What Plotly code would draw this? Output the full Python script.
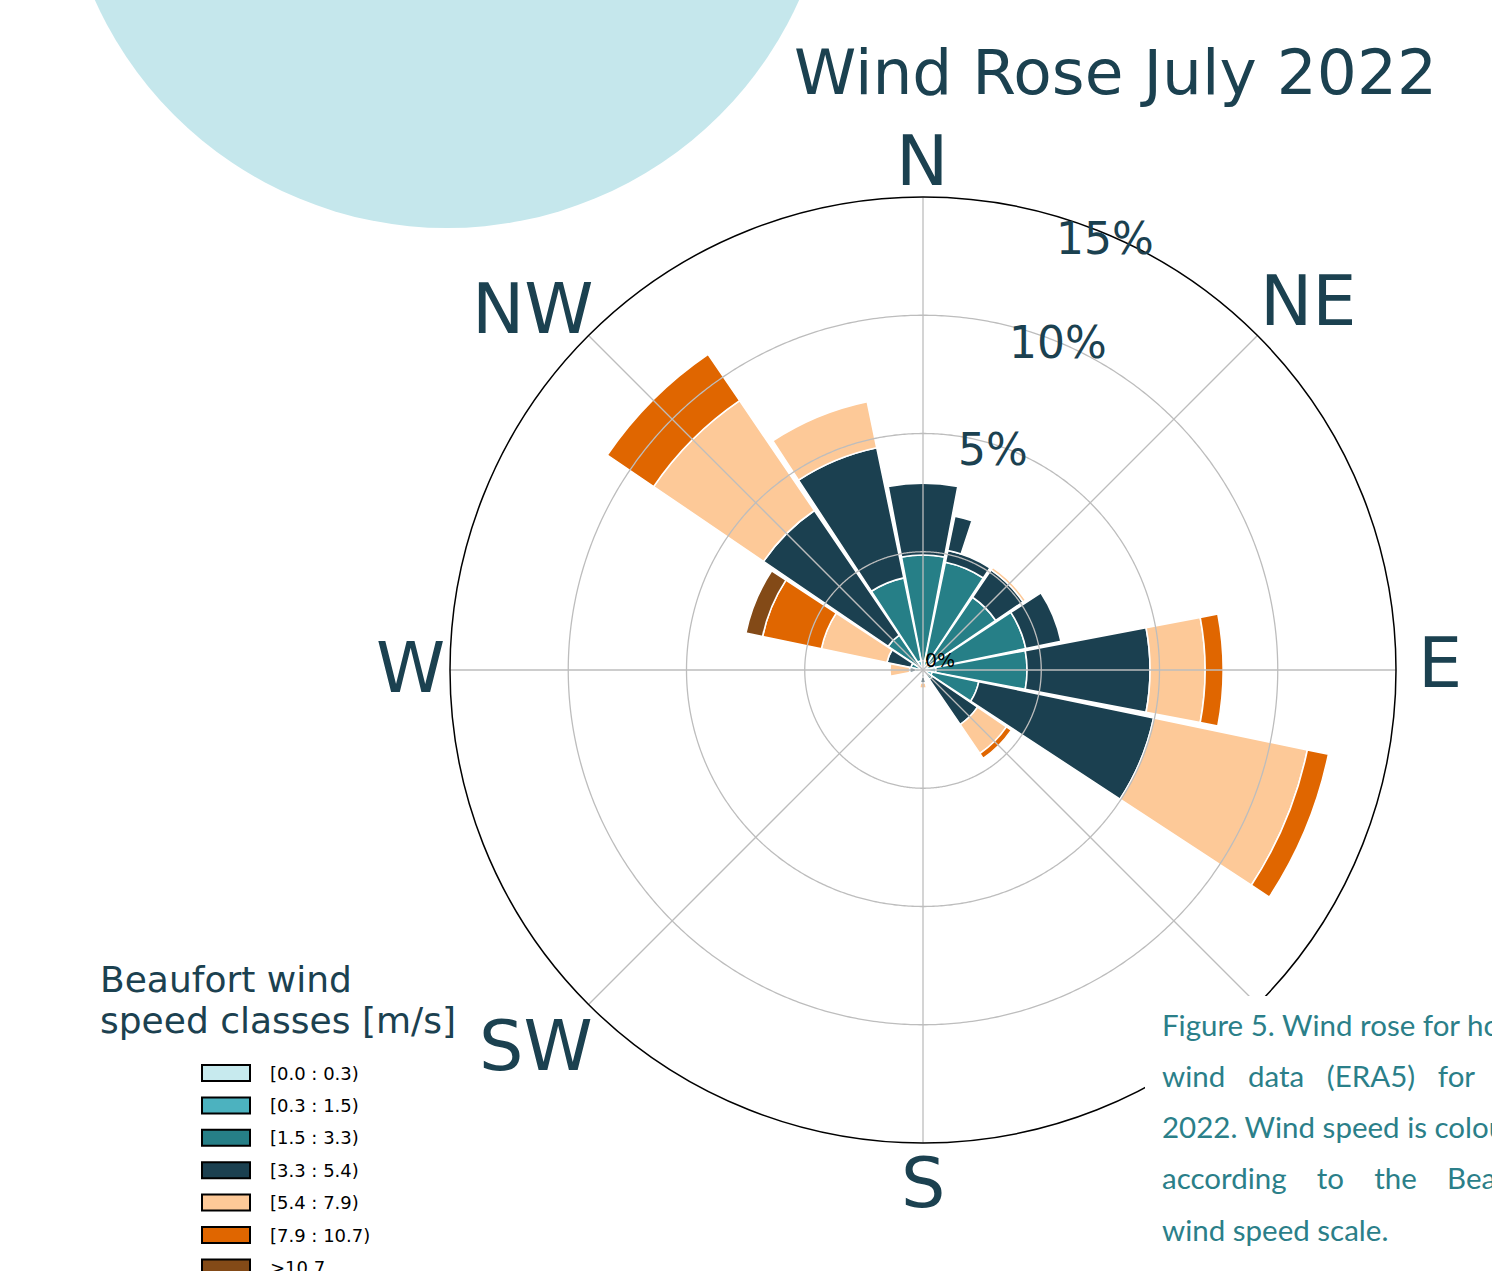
import numpy as np
import plotly.graph_objects as go

W, H = 1492, 1271

# ---------------- data ----------------
directions = ["N", "NNE", "NE", "ENE", "E", "ESE", "SE", "SSE",
              "S", "SSW", "SW", "WSW", "W", "WNW", "NW", "NNW"]
direction_deg = [0, 22.5, 45, 67.5, 90, 112.5, 135, 157.5,
                 180, 202.5, 225, 247.5, 270, 292.5, 315, 337.5]

speed_classes = ["[0.0 : 0.3)", "[0.3 : 1.5)", "[1.5 : 3.3)", "[3.3 : 5.4)",
                 "[5.4 : 7.9)", "[7.9 : 10.7)", ">10.7"]

# frequency (%) per direction for each Beaufort class
freq_0_03 = [0.05, 0.05, 0.05, 0.05, 0.05, 0.05, 0.03, 0.02, 0.02, 0, 0, 0, 0.02, 0.02, 0.03, 0.05]
freq_03_15 = [0.35, 0.35, 0.30, 0.45, 0.50, 0.35, 0.15, 0.05, 0.08, 0.03, 0, 0.03, 0.10, 0.15, 0.25, 0.35]
freq_15_33 = [4.46, 4.25, 3.37, 3.94, 3.85, 2.01, 0.30, 0.10, 0.20, 0, 0, 0, 0.20, 0.35, 1.50, 3.58]
freq_33_54 = [3.04, 0.51, 1.40, 1.52, 5.20, 7.55, 2.31, 0, 0.25, 0, 0, 0, 0.25, 1.04, 6.38, 5.62]
freq_54_79 = [0, 0, 0.13, 0, 2.33, 6.64, 1.48, 0, 0.22, 0, 0, 0, 0.83, 2.83, 5.62, 1.99]
freq_79_107 = [0, 0, 0, 0, 0.76, 0.91, 0.25, 0, 0, 0, 0, 0, 0, 2.54, 2.37, 0]
freq_gt107 = [0, 0, 0, 0, 0, 0, 0, 0, 0, 0, 0, 0, 0, 0.72, 0, 0]

# partial [3.3 : 5.4) segment drawn narrower in the NNE sector
nne_extra_deg = [22.5]
nne_extra_freq = [1.48]

compass_ticks = [0, 45, 90, 135, 180, 225, 270, 315]
compass_labels = ["N", "NE", "E", "SE", "S", "SW", "W", "NW"]
compass_visible = ["N", "NE", "E", "S", "SW", "W", "NW"]   # SE is hidden by the caption panel
pct_labels = ["0%", "5%", "10%", "15%"]

series = [freq_0_03, freq_03_15, freq_15_33, freq_33_54, freq_54_79, freq_79_107, freq_gt107]
colors = ["#c7eaee", "#4cb2bf", "#267f87", "#1b4050", "#fdc998", "#e06600", "#834a17"]

caption_words = [["Figure 5. Wind rose for hourly"],
                 ["wind", "data", "(ERA5)", "for", "July"],
                 ["2022. Wind speed is coloured"],
                 ["according", "to", "the", "Beaufort"],
                 ["wind speed scale."]]

DARK = "#1b4150"
CAPTION = "#2b7f89"
GRID = "#bdbdbd"

# ---------------- figure ----------------
cx, cy, R = 923, 670, 473
def px(x):
    return x / W
def py(y):
    return 1 - y / H

fig = go.Figure()

bases = np.zeros(len(directions))
for name, vals, col in zip(speed_classes, series, colors):
    vals = np.array(vals, dtype=float)
    fig.add_trace(go.Barpolar(
        r=vals, theta=direction_deg, base=bases.copy(), width=21.5,
        name=name, marker=dict(color=col, line=dict(color="white", width=1.6)),
        showlegend=False, hoverinfo="skip"))
    if name == "[3.3 : 5.4)":
        k = directions.index("NNE")
        nne_base = bases[k] + vals[k]
        fig.add_trace(go.Barpolar(
            r=nne_extra_freq, theta=nne_extra_deg, base=[nne_base],
            width=6.5, offset=-10.8,
            marker=dict(color=col, line=dict(color="white", width=1.6)),
            showlegend=False, hoverinfo="skip"))
    bases = bases + vals

# grid drawn above the bars
ring_theta = np.linspace(0, 360, 721)
for rv in [5, 10, 15]:
    fig.add_trace(go.Scatterpolar(r=[rv] * len(ring_theta), theta=ring_theta, mode="lines",
                                  line=dict(color=GRID, width=1.3), showlegend=False, hoverinfo="skip"))
for t in compass_ticks:
    fig.add_trace(go.Scatterpolar(r=[0, 20], theta=[t, t], mode="lines",
                                  line=dict(color=GRID, width=1.3), showlegend=False, hoverinfo="skip"))

fig.update_layout(
    width=W, height=H,
    margin=dict(l=0, r=0, t=0, b=0),
    paper_bgcolor="white",
    showlegend=False,
    polar=dict(
        domain=dict(x=[px(cx - R), px(cx + R)], y=[py(cy + R), py(cy - R)]),
        bgcolor="white",
        barmode="overlay",
        radialaxis=dict(range=[0, 20], showgrid=False, showline=False, showticklabels=False,
                        ticks=""),
        angularaxis=dict(rotation=90, direction="clockwise", thetaunit="degrees",
                         tickmode="array", tickvals=compass_ticks, ticktext=compass_labels,
                         showticklabels=False,
                         showgrid=False, showline=True, linecolor="black", linewidth=1.5,
                         ticks=""),
    ),
)

shapes = []
# decorative light blue disc
shapes.append(dict(type="circle", xref="paper", yref="paper",
                   x0=px(447 - 386), x1=px(447 + 386), y0=py(-158 + 386), y1=py(-158 - 386),
                   fillcolor="#c5e7ec", line=dict(width=0), layer="below"))
# white caption panel covering lower right
shapes.append(dict(type="rect", xref="paper", yref="paper",
                   x0=px(1145), x1=1.05, y0=-0.05, y1=py(996),
                   fillcolor="white", line=dict(width=0), layer="above"))

annotations = []
annotations.append(dict(text="Wind Rose July 2022", xref="paper", yref="paper",
                        x=px(1115), y=py(73), xanchor="center", yanchor="middle", showarrow=False,
                        font=dict(family="DejaVu Sans", size=63, color=DARK)))

# compass direction labels
compass_pos = {"N": (922, 161), "NE": (1308, 301), "E": (1440, 663), "S": (923, 1183),
               "SW": (536, 1046), "W": (410, 668), "NW": (533, 309)}
for lab in compass_visible:
    x, y = compass_pos[lab]
    annotations.append(dict(text=lab, xref="paper", yref="paper", x=px(x), y=py(y),
                            xanchor="center", yanchor="middle", showarrow=False,
                            font=dict(family="DejaVu Sans", size=70, color=DARK)))

# radial percentage labels
pct_pos = [(940, 660), (993, 449), (1058, 343), (1105, 238)]
for lab, (x, y) in zip(pct_labels, pct_pos):
    small = lab == "0%"
    annotations.append(dict(text=lab, xref="paper", yref="paper", x=px(x), y=py(y),
                            xanchor="center", yanchor="middle", showarrow=False,
                            font=dict(family="DejaVu Sans", size=19 if small else 44,
                                      color="black" if small else DARK)))

# legend (title + swatches)
annotations.append(dict(text="Beaufort wind", xref="paper", yref="paper", x=px(98), y=py(980),
                        xanchor="left", yanchor="middle", showarrow=False,
                        font=dict(family="DejaVu Sans", size=36, color=DARK)))
annotations.append(dict(text="speed classes [m/s]", xref="paper", yref="paper", x=px(98), y=py(1020),
                        xanchor="left", yanchor="middle", showarrow=False,
                        font=dict(family="DejaVu Sans", size=36, color=DARK)))
for i, (lab, col) in enumerate(zip(speed_classes, colors)):
    yc = 1073 + 32.4 * i
    shapes.append(dict(type="rect", xref="paper", yref="paper",
                       x0=px(202), x1=px(250), y0=py(yc + 8), y1=py(yc - 8),
                       fillcolor=col, line=dict(color="black", width=2), layer="above"))
    annotations.append(dict(text=lab, xref="paper", yref="paper", x=px(268), y=py(yc),
                            xanchor="left", yanchor="middle", showarrow=False,
                            font=dict(family="DejaVu Sans", size=18, color="black")))

# caption (justified lines use wider word gaps)
NB = "\u00a0"
gap_counts = [1, 3, 1, 4, 1]
for i, words in enumerate(caption_words):
    gap = NB * gap_counts[i] if len(words) > 1 else " "
    line = gap.join(words)
    annotations.append(dict(text=line, xref="paper", yref="paper", x=px(1160), y=py(1024 + 51.3 * i),
                            xanchor="left", yanchor="middle", showarrow=False,
                            font=dict(family="Lato", size=29.5, color=CAPTION)))

fig.update_layout(shapes=shapes, annotations=annotations)
fig.write_html("out.html", config={"displayModeBar": False},
               post_script="document.body.style.margin='0px';")
